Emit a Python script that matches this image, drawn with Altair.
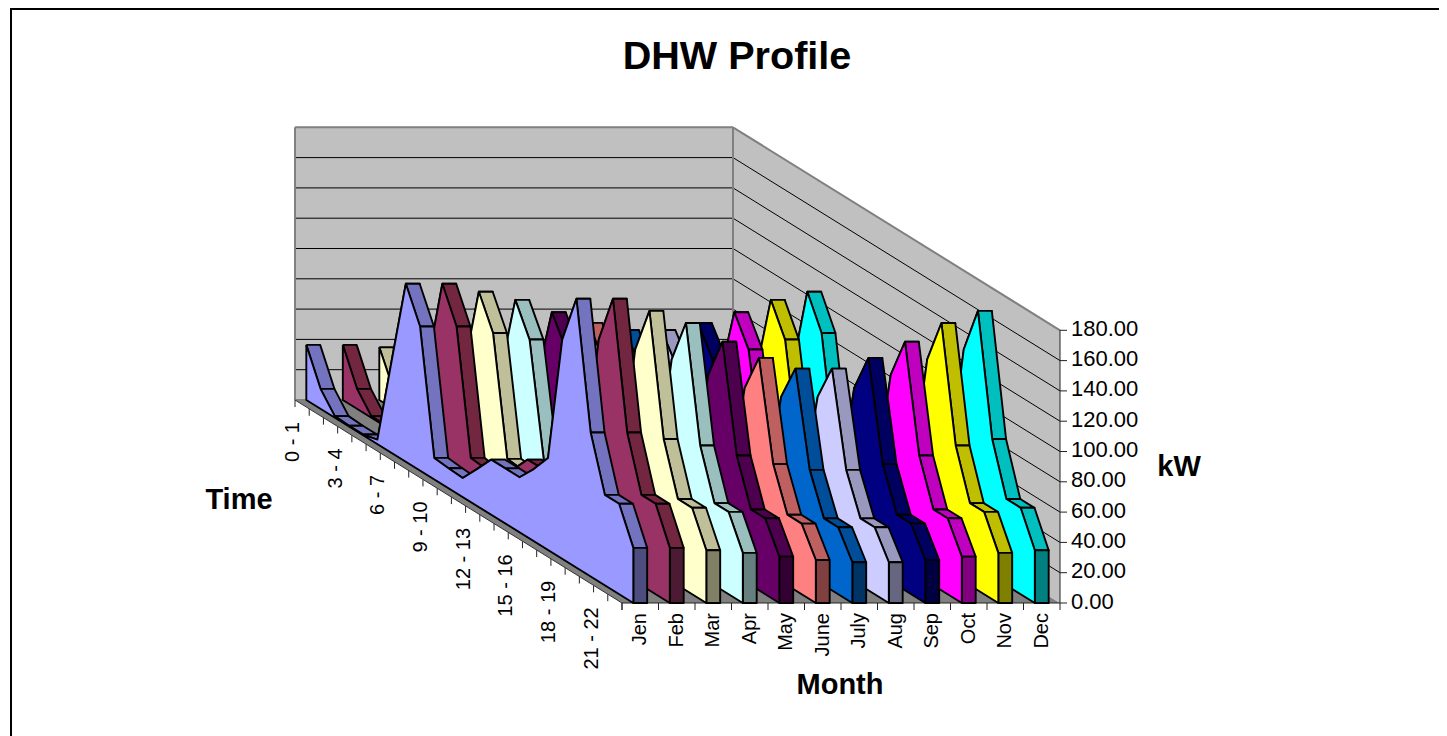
import altair as alt
import pandas as pd

TITLE = "DHW Profile"
MONTHS = ["Jen", "Feb", "Mar", "Apr", "May", "June", "July", "Aug", "Sep", "Oct", "Nov", "Dec"]
TIMES = ["0 - 1", "3 - 4", "6 - 7", "9 - 10", "12 - 13", "15 - 16", "18 - 19", "21 - 22"]
TIME_STEPS = [0, 3, 6, 9, 12, 15, 18, 21]
KW_TICKS = [0, 20, 40, 60, 80, 100, 120, 140, 160, 180]

# kW per hour (24 points) per month
jan = [36.4, 13.2, 1, .5, .5, 3, 60.7, 117.5, 95.1, 14.2, 13.2, 12.6, 24.3, 36.4, 36.4, 36.4, 47.6, 60.7, 144.7, 177.5, 95.1, 59.7, 59.7, 36.4]
feb = [36.4, 13.2, 1, .5, .5, 3, 60.7, 117.5, 95.1, 14.2, 13.2, 12.6, 24.3, 36.4, 36.4, 36.4, 47.6, 60.7, 144.7, 177.5, 95.1, 59.7, 59.7, 36.4]
mar = [34.8, 12.6, 1, .5, .5, 2.9, 58, 112.2, 90.8, 13.6, 12.6, 12, 23.2, 34.8, 34.8, 34.8, 45.5, 58, 138.2, 169.5, 90.8, 57, 57, 34.8]
apr = [33.1, 12, .9, .5, .5, 2.7, 55.2, 106.9, 86.5, 12.9, 12, 11.5, 22.1, 33.1, 33.1, 33.1, 43.3, 55.2, 131.7, 161.5, 86.5, 54.3, 54.3, 33.1]
may = [30.6, 11.1, .8, .4, .4, 2.5, 51, 98.7, 79.9, 11.9, 11.1, 10.6, 20.4, 30.6, 30.6, 30.6, 40, 51, 121.5, 149.1, 79.9, 50.1, 50.1, 30.6]
jun = [28.4, 10.3, .8, .4, .4, 2.3, 47.3, 91.7, 74.2, 11.1, 10.3, 9.8, 19, 28.4, 28.4, 28.4, 37.1, 47.3, 112.9, 138.5, 74.2, 46.6, 46.6, 28.4]
jul = [26.9, 9.8, .7, .4, .4, 2.2, 44.9, 87, 70.4, 10.5, 9.8, 9.3, 18, 26.9, 26.9, 26.9, 35.2, 44.9, 107.1, 131.4, 70.4, 44.2, 44.2, 26.9]
aug = [26.9, 9.8, .7, .4, .4, 2.2, 44.9, 87, 70.4, 10.5, 9.8, 9.3, 18, 26.9, 26.9, 26.9, 35.2, 44.9, 107.1, 131.4, 70.4, 44.2, 44.2, 26.9]
sep = [28.4, 10.3, .8, .4, .4, 2.3, 47.3, 91.7, 74.2, 11.1, 10.3, 9.8, 19, 28.4, 28.4, 28.4, 37.1, 47.3, 112.9, 138.5, 74.2, 46.6, 46.6, 28.4]
oct_ = [30.6, 11.1, .8, .4, .4, 2.5, 51, 98.7, 79.9, 11.9, 11.1, 10.6, 20.4, 30.6, 30.6, 30.6, 40, 51, 121.5, 149.1, 79.9, 50.1, 50.1, 30.6]
nov = [33.1, 12, .9, .5, .5, 2.7, 55.2, 106.9, 86.5, 12.9, 12, 11.5, 22.1, 33.1, 33.1, 33.1, 43.3, 55.2, 131.7, 161.5, 86.5, 54.3, 54.3, 33.1]
dec = [34.8, 12.6, 1, .5, .5, 2.9, 58, 112.2, 90.8, 13.6, 12.6, 12, 23.2, 34.8, 34.8, 34.8, 45.5, 58, 138.2, 169.5, 90.8, 57, 57, 34.8]
SERIES = [jan, feb, mar, apr, may, jun, jul, aug, sep, oct_, nov, dec]

SIDE = ["#9999FF", "#993366", "#FFFFCC", "#CCFFFF", "#660066", "#FF8080", "#0066CC", "#CCCCFF", "#000080", "#FF00FF", "#FFFF00", "#00FFFF"]
TOP = ["#7373BF", "#732640", "#BFBF99", "#99BFBF", "#4D004D", "#BF6060", "#004D99", "#9999BF", "#000060", "#BF00BF", "#BFBF00", "#00BFBF"]
END = ["#4D4D80", "#4D1A33", "#808066", "#668080", "#330033", "#804040", "#003366", "#666680", "#000040", "#800080", "#808000", "#008080"]

W, H = 1431, 728
N_M, LAST = 12, 23


def project(m, i, kw):
    # oblique view of the month / hour / kW box, in page pixels
    return (295 + m * 36.5 + i * 327 / LAST, 400 + i * 203 / LAST - kw * 1.515)


xs = alt.Scale(domain=[8, 8 + W], range=[0, W], nice=False, zero=False)
ys = alt.Scale(domain=[8, 8 + H], range=[0, H], nice=False, zero=False)
X = alt.X("x:Q", scale=xs, axis=None)
Y = alt.Y("y:Q", scale=ys, axis=None)

polys = []


def poly(name, color, pts):
    pts = list(pts) + [pts[0]]
    for k, (m, i, v) in enumerate(pts):
        px, py = project(m, i, v)
        polys.append({"poly": name, "k": k, "x": px, "y": py, "col": color})


wall = "#C0C0C0"
floor = "#808080"
poly("floor", floor, [(0, 0, 0), (N_M, 0, 0), (N_M, LAST, 0), (0, LAST, 0)])
poly("back", wall, [(0, 0, 0), (N_M, 0, 0), (N_M, 0, 180), (0, 0, 180)])
poly("right", wall, [(N_M, 0, 0), (N_M, LAST, 0), (N_M, LAST, 180), (N_M, 0, 180)])
base_df = pd.DataFrame(polys)
polys = []

for m in range(N_M - 1, -1, -1):
    L, R = m + 0.31, m + 0.69
    v = SERIES[m]
    for i in range(LAST):
        poly(f"{m:02d}top{i:02d}", TOP[m], [(L, i, v[i]), (R, i, v[i]), (R, i + 1, v[i + 1]), (L, i + 1, v[i + 1])])
    poly(f"{m:02d}end", END[m], [(L, LAST, v[LAST]), (R, LAST, v[LAST]), (R, LAST, 0), (L, LAST, 0)])
    poly(f"{m:02d}side", SIDE[m], [(L, i, v[i]) for i in range(LAST + 1)] + [(L, LAST, 0), (L, 0, 0)])
ribbon_df = pd.DataFrame(polys)


def seg(rows, a, b, dx=0, dy=0):
    p, q = project(*a), project(*b)
    rows.append({"x": p[0], "y": p[1], "x2": q[0] + dx, "y2": q[1] + dy})


grid, edge, ticks = [], [], []
for kw in KW_TICKS[1:-1]:
    seg(grid, (0, 0, kw), (N_M, 0, kw))
    seg(grid, (N_M, 0, kw), (N_M, LAST, kw))
seg(edge, (0, 0, 0), (0, 0, 180))
seg(edge, (0, 0, 180), (N_M, 0, 180))
seg(edge, (N_M, 0, 0), (N_M, 0, 180))
seg(edge, (N_M, 0, 180), (N_M, LAST, 180))
seg(edge, (0, 0, 0), (N_M, 0, 0))
seg(ticks, (N_M, LAST, 0), (N_M, LAST, 180))
seg(ticks, (0, LAST, 0), (N_M, LAST, 0))
for kw in KW_TICKS:
    seg(ticks, (N_M, LAST, kw), (N_M, LAST, kw), dx=7)
for m in range(N_M + 1):
    seg(ticks, (m, LAST, 0), (m, LAST, 0), dy=7)
for i in range(LAST + 1):
    seg(ticks, (0, i, 0), (0, i, 0), dy=7)

axis_edge = []
seg(axis_edge, (0, 0, 0), (0, LAST, 0))


def rules(rows, color, width):
    return alt.Chart(pd.DataFrame(rows)).mark_rule(color=color, strokeWidth=width).encode(
        x=X, y=Y, x2="x2:Q", y2="y2:Q")


def polygons(df):
    return alt.Chart(df).mark_line(stroke="black", strokeWidth=1.9, strokeJoin="round", interpolate="linear").encode(
        x=X, y=Y, detail="poly:N", order="k:Q", fill=alt.Fill("col:N", scale=None))


base = alt.Chart(base_df).mark_line(strokeWidth=0, interpolate="linear").encode(
    x=X, y=Y, detail="poly:N", order="k:Q", fill=alt.Fill("col:N", scale=None))

month_lab = pd.DataFrame([
    {"x": project(m + .5, LAST, 0)[0], "y": project(m + .5, LAST, 0)[1] + 10, "t": MONTHS[m]} for m in range(N_M)])
time_lab = pd.DataFrame([
    {"x": project(0, i, 0)[0] - 2, "y": project(0, i, 0)[1] + 22, "t": t} for i, t in zip(TIME_STEPS, TIMES)])
kw_lab = pd.DataFrame([
    {"x": project(N_M, LAST, k)[0] + 11, "y": project(N_M, LAST, k)[1] - 1.5, "t": f"{k:.2f}"} for k in KW_TICKS])
bold_lab = [
    {"x": 737, "y": 57, "t": TITLE, "s": 39.6},
    {"x": 239, "y": 500, "t": "Time", "s": 29},
    {"x": 840, "y": 685, "t": "Month", "s": 29},
    {"x": 1179, "y": 467, "t": "kW", "s": 29},
]

FONT = "Liberation Sans"


def vtext(df):
    return alt.Chart(df).mark_text(font=FONT, fontSize=20, angle=270, align="right", baseline="middle", color="black").encode(
        x=X, y=Y, text="t:N")


kw_text = alt.Chart(kw_lab).mark_text(font=FONT, fontSize=22, align="left", baseline="middle", color="black").encode(
    x=X, y=Y, text="t:N")
bold_text = alt.Chart(pd.DataFrame(bold_lab)).mark_text(font=FONT, fontWeight="bold", align="center", baseline="middle", color="black").encode(
    x=X, y=Y, text="t:N", size=alt.Size("s:Q", scale=None, legend=None))

frame = [{"x": 10, "y": 9, "x2": 1447, "y2": 9}, {"x": 11, "y": 9, "x2": 11, "y2": 736}]

chart = alt.layer(
    rules(frame, "black", 2),
    base,
    rules(grid, "black", 1),
    rules(edge, "#808080", 2),
    rules(ticks, "#222222", 1),
    rules(axis_edge, "#333333", 1),
    polygons(ribbon_df),
    vtext(month_lab),
    vtext(time_lab),
    kw_text,
    bold_text,
).properties(
    width=W, height=H, padding=0, autosize=alt.AutoSizeParams(type="none"), background="white"
).configure_view(stroke=None)

chart.save("out.html", embed_options={"renderer": "svg", "actions": False})
